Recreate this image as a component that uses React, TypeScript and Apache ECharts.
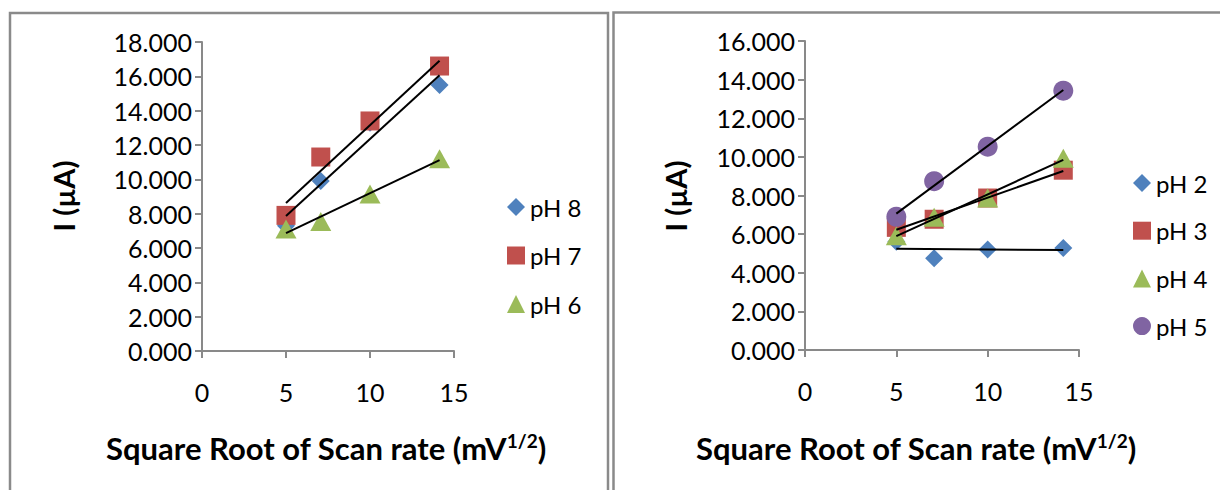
import React, { useEffect, useRef } from "react";
import * as echarts from "echarts";

// Square root of scan rate (x) values
const xValues = [5, 7.07, 10, 14.14];

// Left panel series (I in µA)
const leftNames = ["pH 8", "pH 7", "pH 6"];
const pH8 = [7.3, 9.9, 13.3, 15.5];
const pH7 = [7.9, 11.3, 13.4, 16.6];
const pH6 = [7.1, 7.55, 9.15, 11.2];

// Right panel series (I in µA)
const rightNames = ["pH 2", "pH 3", "pH 4", "pH 5"];
const pH2 = [5.6, 4.75, 5.21, 5.28];
const pH3 = [6.35, 6.77, 7.87, 9.31];
const pH4 = [5.92, 6.87, 7.87, 9.93];
const pH5 = [6.9, 8.74, 10.53, 13.43];

// Axis ranges / ticks
const xMin = 0;
const xMax = 15;
const xInterval = 5;
const leftYMax = 18;
const rightYMax = 16;
const yInterval = 2;

const xTitle = "Square Root of Scan rate (mV{sup|1/2})";
const yTitle = "I (µA)";

const FONT = "Lato, 'Open Sans', sans-serif";
const AXIS_COLOR = "#898989";

const COLORS = {
  diamond: "#4F81BD",
  rect: "#C0504D",
  triangle: "#9BBB59",
  circle: "#8064A2",
};

function trend(xs: number[], ys: number[]): number[][] {
  const n = xs.length;
  const mx = xs.reduce((a, b) => a + b, 0) / n;
  const my = ys.reduce((a, b) => a + b, 0) / n;
  let sxy = 0;
  let sxx = 0;
  for (let i = 0; i < n; i++) {
    sxy += (xs[i] - mx) * (ys[i] - my);
    sxx += (xs[i] - mx) * (xs[i] - mx);
  }
  const slope = sxy / sxx;
  const x0 = Math.min(...xs);
  const x1 = Math.max(...xs);
  return [
    [x0, my + slope * (x0 - mx)],
    [x1, my + slope * (x1 - mx)],
  ];
}

function scatter(
  name: string,
  ys: number[],
  idx: number,
  symbol: string,
  size: number | number[],
  color: string,
  z: number
) {
  return {
    type: "scatter",
    name,
    xAxisIndex: idx,
    yAxisIndex: idx,
    data: xValues.map((x, i) => [x, ys[i]]),
    symbol,
    symbolSize: size,
    itemStyle: { color, opacity: 1 },
    z,
  };
}

function trendLine(name: string, ys: number[], idx: number) {
  return {
    type: "line",
    name: "Linear (" + name + ")",
    xAxisIndex: idx,
    yAxisIndex: idx,
    data: trend(xValues, ys),
    symbol: "none",
    lineStyle: { color: "#000", width: 2 },
    z: 20,
    silent: true,
  };
}

function xAxisCfg(gridIndex: number) {
  return {
    type: "value",
    gridIndex,
    min: xMin,
    max: xMax,
    interval: xInterval,
    axisLine: { show: true, onZero: false, lineStyle: { color: AXIS_COLOR, width: 2 } },
    axisTick: { show: true, length: 7, lineStyle: { color: AXIS_COLOR, width: 2 } },
    splitLine: { show: false },
    axisLabel: { fontSize: 25, color: "#000", fontFamily: FONT, margin: 28 },
  };
}

function yAxisCfg(gridIndex: number, max: number) {
  return {
    type: "value",
    gridIndex,
    min: 0,
    max,
    interval: yInterval,
    axisLine: { show: true, lineStyle: { color: AXIS_COLOR, width: 2 } },
    axisTick: { show: true, length: 7, lineStyle: { color: AXIS_COLOR, width: 2 } },
    splitLine: { show: false },
    axisLabel: {
      fontSize: 25,
      color: "#000",
      fontFamily: FONT,
      margin: 10,
      formatter: (v: number) => v.toFixed(3),
    },
  };
}

function xTitleGraphic(cx: number, cy: number) {
  return {
    type: "text",
    x: cx,
    y: cy,
    style: {
      text: xTitle,
      fontFamily: FONT,
      fontWeight: "bold",
      fontSize: 31,
      fill: "#000",
      align: "center",
      verticalAlign: "middle",
      rich: {
        sup: {
          fontFamily: FONT,
          fontWeight: "bold",
          fontSize: 19,
          fill: "#000",
          verticalAlign: "top",
          lineHeight: 34,
          padding: [0, 0, 12, 0],
        },
      },
    },
  };
}

function yTitleGraphic(cx: number, cy: number) {
  return {
    type: "text",
    x: cx,
    y: cy,
    rotation: Math.PI / 2,
    style: {
      text: yTitle,
      fontFamily: FONT,
      fontWeight: "bold",
      fontSize: 29,
      fill: "#000",
      align: "center",
      verticalAlign: "middle",
    },
  };
}

export default function App() {
  const ref = useRef<HTMLDivElement>(null);
  useEffect(() => {
    if (!ref.current) return;
    const chart = echarts.init(ref.current, null, { renderer: "svg" });
    const legendText = { fontSize: 24, color: "#000", fontFamily: FONT, lineHeight: 24 };
    chart.setOption({
      animation: false,
      backgroundColor: "#fff",
      grid: [
        { left: 202, top: 42, width: 252, height: 309 },
        { left: 805, top: 41, width: 274, height: 309 },
      ],
      xAxis: [xAxisCfg(0), xAxisCfg(1)],
      yAxis: [yAxisCfg(0, leftYMax), yAxisCfg(1, rightYMax)],
      legend: [
        {
          orient: "vertical",
          left: 507,
          top: 195,
          padding: 0,
          itemWidth: 18,
          itemHeight: 18,
          itemGap: 24.5,
          textStyle: legendText,
          data: [
            { name: leftNames[0], icon: "diamond" },
            { name: leftNames[1], icon: "rect" },
            { name: leftNames[2], icon: "triangle" },
          ],
        },
        {
          orient: "vertical",
          left: 1133,
          top: 171,
          padding: 0,
          itemWidth: 18,
          itemHeight: 18,
          itemGap: 23.7,
          textStyle: legendText,
          data: [
            { name: rightNames[0], icon: "diamond" },
            { name: rightNames[1], icon: "rect" },
            { name: rightNames[2], icon: "triangle" },
            { name: rightNames[3], icon: "circle" },
          ],
        },
      ],
      series: [
        scatter(leftNames[0], pH8, 0, "diamond", 18, COLORS.diamond, 2),
        scatter(leftNames[1], pH7, 0, "rect", 19, COLORS.rect, 3),
        scatter(leftNames[2], pH6, 0, "triangle", [21, 19], COLORS.triangle, 4),
        trendLine(leftNames[0], pH8, 0),
        trendLine(leftNames[1], pH7, 0),
        trendLine(leftNames[2], pH6, 0),
        scatter(rightNames[0], pH2, 1, "diamond", 18, COLORS.diamond, 2),
        scatter(rightNames[1], pH3, 1, "rect", 19, COLORS.rect, 3),
        scatter(rightNames[2], pH4, 1, "triangle", [21, 19], COLORS.triangle, 4),
        scatter(rightNames[3], pH5, 1, "circle", 20, COLORS.circle, 5),
        trendLine(rightNames[0], pH2, 1),
        trendLine(rightNames[1], pH3, 1),
        trendLine(rightNames[2], pH4, 1),
        trendLine(rightNames[3], pH5, 1),
      ],
      graphic: [
        {
          type: "rect",
          shape: { x: 10, y: 13, width: 598, height: 500 },
          style: { fill: "none", stroke: "#8a8a8a", lineWidth: 2.5 },
          silent: true,
        },
        {
          type: "rect",
          shape: { x: 613.5, y: 12.5, width: 700, height: 500 },
          style: { fill: "none", stroke: "#8a8a8a", lineWidth: 2.5 },
          silent: true,
        },
        yTitleGraphic(63, 196),
        yTitleGraphic(675, 196),
        xTitleGraphic(326, 448),
        xTitleGraphic(916, 448),
      ],
    });
    return () => chart.dispose();
  }, []);
  return (
    <div
      ref={ref}
      style={{ position: "absolute", left: 0, top: 0, width: 1220, height: 490 }}
    />
  );
}
